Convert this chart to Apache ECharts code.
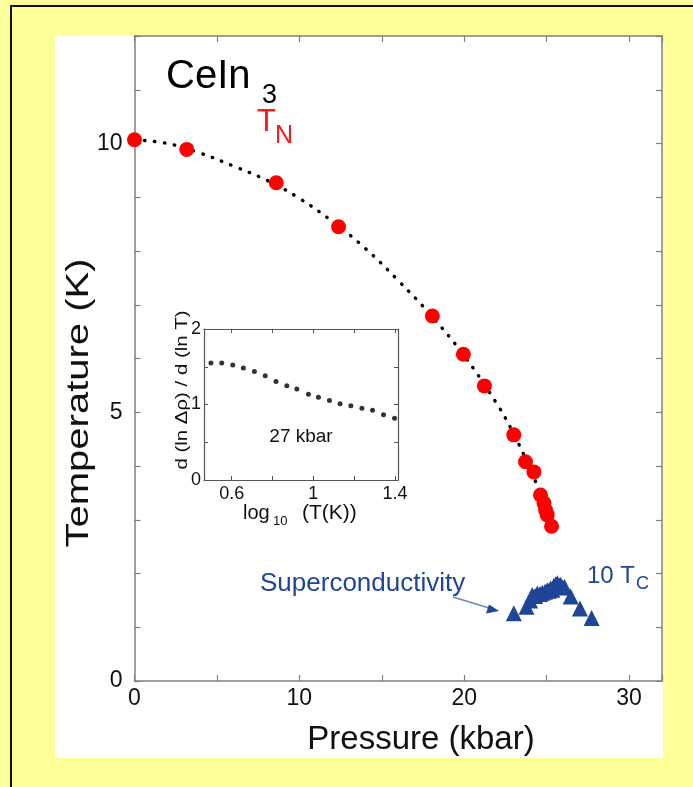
<!DOCTYPE html>
<html>
<head>
<meta charset="utf-8">
<script src="https://cdn.jsdelivr.net/npm/echarts@6/dist/echarts.min.js"></script>
<style>
  html, body { margin: 0; padding: 0; width: 693px; height: 787px; background: #ffff99; overflow: hidden; }
  #frame { position: absolute; left: 10px; top: 5px; width: 700px; height: 800px; border-left: 2px solid #111; border-top: 2px solid #111; box-sizing: border-box; }
  #panel { position: absolute; left: 55px; top: 36px; width: 608px; height: 722px; background: #ffffff; }
  #chart { position: absolute; left: 0; top: 0; width: 693px; height: 787px; }
</style>
</head>
<body>
<div id="frame"></div>
<div id="panel"></div>
<div id="chart"></div>
<script>
// ---- Main plot data ----
const pressureTN = [0, 3.17, 8.6, 12.38, 18.07, 19.95, 21.23, 23.01, 23.72, 24.23, 24.63, 24.84, 24.94, 25.04, 25.30];
const tempTN     = [10.07, 9.89, 9.27, 8.45, 6.79, 6.08, 5.49, 4.58, 4.08, 3.89, 3.46, 3.31, 3.18, 3.09, 2.88];

// dotted guide curve through T_N
const curveP = [0, 2, 4, 6, 8, 10, 12, 14, 16, 18, 20, 22, 23, 24, 24.6];
const curveT = [10.07, 10.0, 9.82, 9.58, 9.32, 8.98, 8.55, 8.05, 7.45, 6.8, 6.05, 5.15, 4.6, 3.95, 3.5];

// 10 x Tc (superconductivity)
const pressureTc = [23.01, 23.78, 24.0, 24.13, 24.3, 24.44, 24.6, 24.74, 24.9, 25.04, 25.15, 25.24, 25.35, 25.44, 25.55, 25.65, 25.75, 25.85, 25.97, 26.09, 26.46, 27.02, 27.73];
const tenTc      = [1.26, 1.38, 1.5, 1.6, 1.58, 1.63, 1.62, 1.64, 1.66, 1.69, 1.68, 1.72, 1.7, 1.77, 1.8, 1.82, 1.78, 1.79, 1.74, 1.75, 1.57, 1.35, 1.17];

const xTickLabels = [0, 10, 20, 30];
const yTickLabels = [0, 5, 10];

// ---- Inset data (27 kbar) ----
const insetLogT = [0.498, 0.551, 0.605, 0.657, 0.711, 0.764, 0.817, 0.870, 0.919, 0.976, 1.025, 1.079, 1.131, 1.184, 1.238, 1.290, 1.344, 1.398];
const insetDeriv = [1.549, 1.549, 1.522, 1.482, 1.438, 1.381, 1.305, 1.248, 1.204, 1.137, 1.097, 1.053, 1.009, 0.982, 0.951, 0.925, 0.863, 0.819];
const insetXTicks = [0.6, 0.8, 1.0, 1.2, 1.4];
const insetXLabels = [0.6, 1.0, 1.4];

const zip = (a, b) => a.map((v, i) => [v, b[i]]);

const FONT = 'Liberation Sans';
const AX = '#808080';
const BLUE = '#1f4597';

function mainAxis(pos, show, extra) {
  return Object.assign({
    type: 'value', gridIndex: 0, position: pos,
    axisLine: { show: true, onZero: false, lineStyle: { color: AX, width: 1.5 } },
    axisTick: { show: true, inside: true, length: 6, lineStyle: { color: AX, width: 1.2 } },
    splitLine: { show: false },
    axisLabel: { show: show, color: '#111', fontFamily: FONT, fontSize: 23 }
  }, extra);
}

const chart = echarts.init(document.getElementById('chart'), null, { renderer: 'canvas' });

const option = {
  backgroundColor: 'transparent',
  animation: false,
  grid: [
    { left: 134.5, top: 36, width: 527.5, height: 645, containLabel: false },
    { left: 204, top: 329, width: 194, height: 151, containLabel: false }
  ],
  xAxis: [
    mainAxis('bottom', true, { min: 0, max: 32, interval: 5,
      axisLabel: { show: true, color: '#111', fontFamily: FONT, fontSize: 23, margin: 6,
        formatter: v => xTickLabels.includes(v) ? String(v) : '' } }),
    mainAxis('top', false, { min: 0, max: 32, interval: 5 }),
    {
      type: 'value', gridIndex: 1, position: 'bottom', min: 0.464, max: 1.415,
      axisLine: { show: true, onZero: false, lineStyle: { color: '#555', width: 1.2 } },
      axisTick: { show: true, inside: true, length: 4, customValues: insetXTicks, lineStyle: { color: '#555' } },
      splitLine: { show: false },
      axisLabel: { show: true, customValues: insetXLabels, color: '#111', fontFamily: FONT, fontSize: 18, margin: 5,
        formatter: v => String(Math.round(v * 10) / 10) }
    },
    {
      type: 'value', gridIndex: 1, position: 'top', min: 0.464, max: 1.415,
      axisLine: { show: true, onZero: false, lineStyle: { color: '#555', width: 1.2 } },
      axisTick: { show: true, inside: true, length: 4, customValues: insetXTicks, lineStyle: { color: '#555' } },
      splitLine: { show: false },
      axisLabel: { show: false }
    }
  ],
  yAxis: [
    mainAxis('left', true, { min: 0, max: 12, interval: 1,
      axisLabel: { show: true, color: '#111', fontFamily: FONT, fontSize: 23, margin: 12,
        formatter: v => yTickLabels.includes(v) ? String(v) : '' } }),
    mainAxis('right', false, { min: 0, max: 12, interval: 1 }),
    {
      type: 'value', gridIndex: 1, position: 'left', min: 0, max: 2, interval: 0.5,
      axisLine: { show: true, onZero: false, lineStyle: { color: '#555', width: 1.2 } },
      axisTick: { show: true, inside: true, length: 4, lineStyle: { color: '#555' } },
      splitLine: { show: false },
      axisLabel: { show: true, color: '#111', fontFamily: FONT, fontSize: 18, margin: 3,
        formatter: v => (v % 1 === 0 ? String(v) : '') }
    },
    {
      type: 'value', gridIndex: 1, position: 'right', min: 0, max: 2, interval: 0.5,
      axisLine: { show: true, onZero: false, lineStyle: { color: '#555', width: 1.2 } },
      axisTick: { show: true, inside: true, length: 4, lineStyle: { color: '#555' } },
      splitLine: { show: false },
      axisLabel: { show: false }
    }
  ],
  series: [
    {
      name: 'fit', type: 'line', xAxisIndex: 0, yAxisIndex: 0, smooth: 0.4,
      data: zip(curveP, curveT), symbol: 'none', z: 2,
      lineStyle: { color: '#000', width: 3.4, type: [0.5, 9.5], cap: 'round' }
    },
    {
      name: 'TN', type: 'scatter', xAxisIndex: 0, yAxisIndex: 0,
      data: zip(pressureTN, tempTN), symbol: 'circle', symbolSize: 15, z: 3,
      itemStyle: { color: '#ff0000', opacity: 1 }
    },
    {
      name: '10 Tc', type: 'scatter', xAxisIndex: 0, yAxisIndex: 0,
      data: zip(pressureTc, tenTc), symbol: 'triangle', symbolSize: 16, z: 3,
      itemStyle: { color: BLUE, opacity: 1 }
    },
    {
      name: 'inset', type: 'scatter', xAxisIndex: 2, yAxisIndex: 2,
      data: zip(insetLogT, insetDeriv), symbol: 'circle', symbolSize: 5, z: 3,
      itemStyle: { color: '#000' }
    }
  ],
  graphic: [
    // axis titles
    { type: 'text', style: { text: 'Pressure (kbar)', x: 421, y: 740, align: 'center', verticalAlign: 'middle', fontFamily: FONT, fontSize: 33, fill: '#111' } },
    { type: 'text', x: 79, y: 403, rotation: Math.PI / 2, scaleX: 1.25, style: { text: 'Temperature (K)', x: 0, y: 0, align: 'center', verticalAlign: 'middle', fontFamily: FONT, fontSize: 32, fill: '#111' } },
    // CeIn3
    { type: 'text', style: { text: 'CeIn', x: 166, y: 77, align: 'left', verticalAlign: 'middle', fontFamily: FONT, fontSize: 40, fill: '#000' } },
    { type: 'text', style: { text: '3', x: 262, y: 96, align: 'left', verticalAlign: 'middle', fontFamily: FONT, fontSize: 27, fill: '#000' } },
    // T_N
    { type: 'text', style: { text: 'T', x: 257, y: 122, align: 'left', verticalAlign: 'middle', fontFamily: FONT, fontSize: 31, fill: '#ff1a1a' } },
    { type: 'text', style: { text: 'N', x: 275, y: 136, align: 'left', verticalAlign: 'middle', fontFamily: FONT, fontSize: 25, fill: '#ff1a1a' } },
    // Superconductivity label + arrow
    { type: 'text', style: { text: 'Superconductivity', x: 260, y: 584, align: 'left', verticalAlign: 'middle', fontFamily: FONT, fontSize: 26, fill: BLUE } },
    { type: 'line', shape: { x1: 453, y1: 597, x2: 489, y2: 608 }, style: { stroke: '#6f86b4', lineWidth: 1.5 } },
    { type: 'polygon', shape: { points: [[499, 611], [486, 613.5], [489, 604.5]] }, style: { fill: BLUE } },
    // 10 Tc
    { type: 'text', style: { text: '10 T', x: 587, y: 576, align: 'left', verticalAlign: 'middle', fontFamily: FONT, fontSize: 24, fill: BLUE } },
    { type: 'text', style: { text: 'C', x: 636, y: 584, align: 'left', verticalAlign: 'middle', fontFamily: FONT, fontSize: 18, fill: BLUE } },
    // inset labels
    { type: 'text', style: { text: '27 kbar', x: 301, y: 437, align: 'center', verticalAlign: 'middle', fontFamily: FONT, fontSize: 19, fill: '#111' } },
    { type: 'text', x: 182, y: 390, rotation: Math.PI / 2, scaleX: 1.2, style: { text: 'd (ln \u0394\u03c1) / d (ln T)', x: 0, y: 0, align: 'center', verticalAlign: 'middle', fontFamily: FONT, fontSize: 17, fill: '#111' } },
    { type: 'text', style: { text: 'log', x: 243, y: 513, align: 'left', verticalAlign: 'middle', fontFamily: FONT, fontSize: 20, fill: '#111' } },
    { type: 'text', style: { text: '10', x: 273, y: 521, align: 'left', verticalAlign: 'middle', fontFamily: FONT, fontSize: 13, fill: '#111' } },
    { type: 'text', style: { text: '(T(K))', x: 302, y: 513, align: 'left', verticalAlign: 'middle', fontFamily: FONT, fontSize: 21, fill: '#111' } }
  ]
};
chart.setOption(option);
</script>
</body>
</html>
